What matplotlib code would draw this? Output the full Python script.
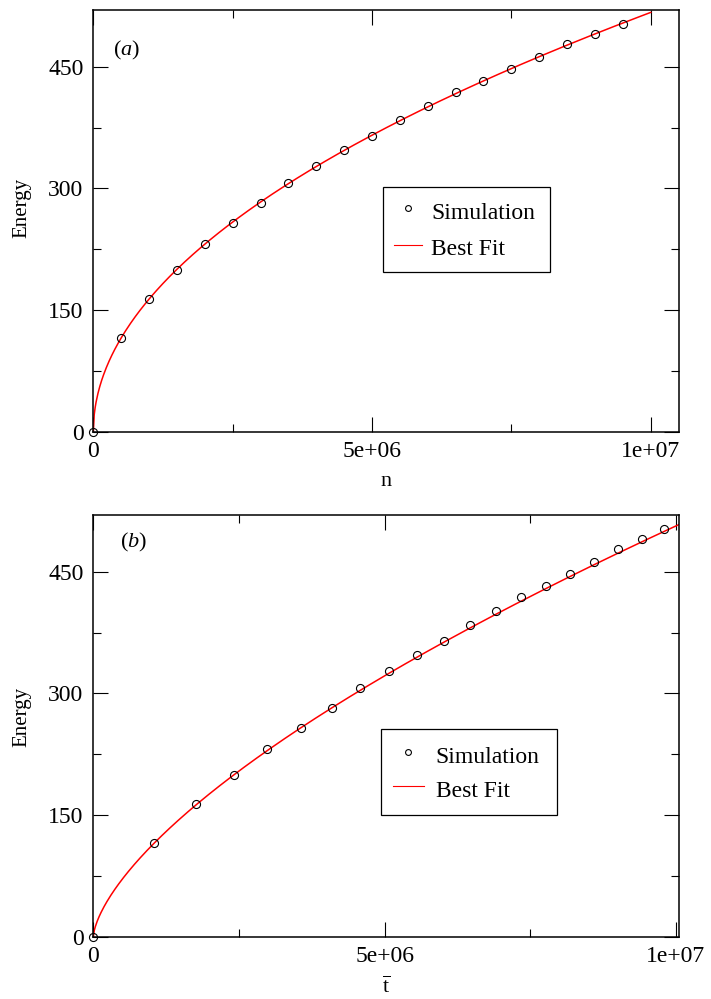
import numpy as np
import matplotlib
matplotlib.use("Agg")
import matplotlib.pyplot as plt
from matplotlib.lines import Line2D
from matplotlib.ticker import MultipleLocator

plt.rcParams['font.family'] = ['Liberation Serif', 'DejaVu Serif']
plt.rcParams['mathtext.fontset'] = 'custom'
plt.rcParams['mathtext.rm'] = 'Liberation Serif'
plt.rcParams['mathtext.it'] = 'Liberation Serif:italic'

# --- data ---
n_sim = [0, 0.5e6, 1.0e6, 1.5e6, 2.0e6, 2.5e6, 3.0e6, 3.5e6, 4.0e6, 4.5e6,
         5.0e6, 5.5e6, 6.0e6, 6.5e6, 7.0e6, 7.5e6, 8.0e6, 8.5e6, 9.0e6, 9.5e6]
tbar_sim = [0, 1.04e6, 1.77e6, 2.41e6, 2.98e6, 3.56e6, 4.09e6, 4.57e6, 5.08e6, 5.56e6,
            6.02e6, 6.47e6, 6.91e6, 7.34e6, 7.77e6, 8.19e6, 8.60e6, 9.01e6, 9.41e6, 9.80e6]
energy_sim = [0, 116, 164, 200, 231, 257, 282, 307, 328, 347,
              365, 384, 402, 419, 432, 447, 462, 478, 491, 503]

# best fit E = coef * x**expo (parameters)
fit_a = dict(coef=0.1635, expo=0.5, x_end=1.0e7)
fit_b = dict(coef=0.01317, expo=0.655, x_end=1.0058e7)

xticks = [0, 5e6, 1e7]
xtick_labels = ['0', '5e+06', '1e+07']
yticks = [0, 150, 300, 450]
ytick_labels = ['0', '150', '300', '450']

W, H = 711, 999
fig = plt.figure(figsize=(W / 100, H / 100), dpi=100)


def axes_px(left, top, right, bottom):
    return fig.add_axes([left / W, 1 - bottom / H, (right - left) / W, (bottom - top) / H])


def style_axes(ax, xmax):
    ax.set_xlim(0, xmax)
    ax.set_ylim(0, 520)
    ax.set_xticks(xticks, xtick_labels)
    ax.set_yticks(yticks, ytick_labels)
    ax.xaxis.set_minor_locator(MultipleLocator(2.5e6))
    ax.yaxis.set_minor_locator(MultipleLocator(75))
    ax.tick_params(which='both', direction='in', top=True, right=True,
                   labelsize=17, pad=7, width=0.8, color='black')
    ax.tick_params(which='major', length=11)
    ax.tick_params(which='minor', length=5.5)
    for s in ax.spines.values():
        s.set_linewidth(1.1)
    ax.set_ylabel('Energy', fontsize=15)


def draw_panel(ax, x_sim, fit, xmax, tag, tag_pos, xlabel, leg_box, leg_opts):
    style_axes(ax, xmax)
    xf = np.linspace(0, fit['x_end'], 600)
    ax.plot(xf, fit['coef'] * xf ** fit['expo'], color='red', lw=1.1, zorder=2)
    ax.plot(x_sim, energy_sim, 'o', mfc='none', mec='black', ms=5.8, mew=0.8,
            clip_on=False, zorder=3)
    ax.text(tag_pos[0], tag_pos[1], tag, transform=ax.transAxes, fontsize=16,
            ha='center', va='center')
    ax.set_xlabel(xlabel, fontsize=16, labelpad=7)
    handles = [Line2D([], [], ls='none', marker='o', mfc='none', mec='black', ms=4.2, mew=0.8),
               Line2D([], [], color='red', lw=0.8)]
    leg = ax.legend(handles, ['Simulation', 'Best Fit'], loc='upper left',
                    bbox_to_anchor=leg_box, mode='expand', fontsize=17, frameon=True,
                    fancybox=False, edgecolor='black', framealpha=1,
                    borderaxespad=0, **leg_opts)
    leg.get_frame().set_linewidth(0.9)


ax1 = axes_px(93.3, 10, 679.3, 431.7)
draw_panel(ax1, n_sim, fit_a, 1.0513e7, r'$(a)$', (0.056, 0.905), 'n',
           (0.494, 0.581, 0.286, 0),
           dict(handlelength=1.2, handletextpad=0.38, borderpad=0.48,
                handleheight=1.28, labelspacing=0.47))
ax1.yaxis.set_label_coords(-0.105, 0.53)

ax2 = axes_px(93.3, 515, 679.3, 936.7)
draw_panel(ax2, tbar_sim, fit_b, 1.0058e7, r'$(b)$', (0.068, 0.934),
           r'$\overline{\mathrm{t}}$', (0.491, 0.492, 0.300, 0),
           dict(handlelength=1.3, handletextpad=0.5, borderpad=0.51,
                handleheight=1.4, labelspacing=0.29))
ax2.yaxis.set_label_coords(-0.105, 0.52)

fig.savefig('out.png', dpi=100)
